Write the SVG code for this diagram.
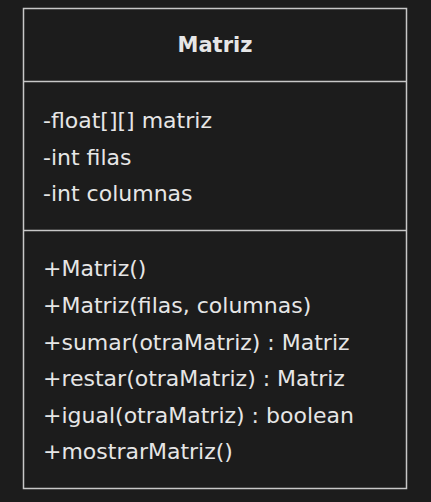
<svg xmlns="http://www.w3.org/2000/svg" width="431" height="502" viewBox="0 0 431 502">
<style>
.t{font-family:"DejaVu Sans",sans-serif;font-size:22px;fill:#e6e6e6}
.b{font-weight:bold;text-anchor:middle;font-size:21px}
.ln{stroke:#c8c8c8;stroke-width:1.5;fill:none}
</style>
<rect width="431" height="502" fill="#1c1c1c"/>
<g id="Matriz">
<rect x="23.5" y="8.5" width="383" height="480" fill="#222222" class="ln"/>
<line x1="23.5" y1="81.5" x2="406.5" y2="81.5" class="ln"/>
<line x1="23.5" y1="230.5" x2="406.5" y2="230.5" class="ln"/>
<text class="t b" x="215" y="52">Matriz</text>
<text class="t" x="43" y="128">-float[][] matriz</text>
<text class="t" x="43" y="165">-int filas</text>
<text class="t" x="43" y="201">-int columnas</text>
<text class="t" x="43" y="276">+Matriz()</text>
<text class="t" x="43" y="313">+Matriz(filas, columnas)</text>
<text class="t" x="43" y="350">+sumar(otraMatriz) : Matriz</text>
<text class="t" x="43" y="386">+restar(otraMatriz) : Matriz</text>
<text class="t" x="43" y="423">+igual(otraMatriz) : boolean</text>
<text class="t" x="43" y="459">+mostrarMatriz()</text>
</g>
<g id="connectors"/>
</svg>
